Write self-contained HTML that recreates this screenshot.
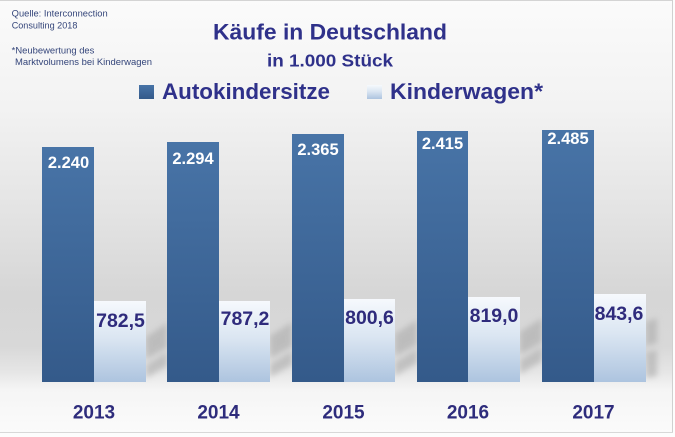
<!DOCTYPE html>
<html><head><meta charset="utf-8"><style>
html,body{margin:0;padding:0;background:#fff;}
svg{display:block;}
text{font-family:"Liberation Sans",Arial,sans-serif;}
</style></head><body>
<svg width="675" height="437" viewBox="0 0 675 437" xmlns="http://www.w3.org/2000/svg">
<defs>
<linearGradient id="bg" x1="0" y1="0" x2="0" y2="1">
<stop offset="0" stop-color="#fbfbfb"/>
<stop offset="0.25" stop-color="#f2f2f2"/>
<stop offset="0.5" stop-color="#e3e3e3"/>
<stop offset="0.68" stop-color="#d6d6d6"/>
<stop offset="0.8" stop-color="#d8d8d8"/>
<stop offset="0.86" stop-color="#e6e6e6"/>
<stop offset="0.9" stop-color="#f5f5f5"/>
<stop offset="1" stop-color="#fbfbfb"/>
</linearGradient>
<linearGradient id="dk" x1="0" y1="0" x2="0" y2="1">
<stop offset="0" stop-color="#4874a7"/>
<stop offset="1" stop-color="#345a8a"/>
</linearGradient>
<linearGradient id="lt" x1="0" y1="0" x2="0" y2="1">
<stop offset="0" stop-color="#f6f9fd"/>
<stop offset="0.45" stop-color="#dbe6f2"/>
<stop offset="1" stop-color="#adc4df"/>
</linearGradient>
<filter id="bl" x="-30%" y="-30%" width="160%" height="160%"><feGaussianBlur stdDeviation="3"/></filter>
</defs>
<rect x="0" y="0" width="675" height="437" fill="#fdfdfd"/>
<rect x="0" y="0" width="673" height="433" fill="url(#bg)"/>
<line x1="0" y1="0.5" x2="673" y2="0.5" stroke="#d4d4d4"/>
<line x1="672.5" y1="0" x2="672.5" y2="433" stroke="#d0d0d0"/>
<line x1="0" y1="432.5" x2="673" y2="432.5" stroke="#d8d8d8"/>

<!-- shadows -->
<g fill="#ababab" filter="url(#bl)" opacity="0.6">
<polygon points="146,337 167,323 167,347 146,360"/>
<polygon points="146,365 167,352 167,366 146,378"/>
<polygon points="270,336 292,322 292,346 270,359"/>
<polygon points="270,364 292,351 292,365 270,377"/>
<polygon points="395,334 417,320 417,344 395,357"/>
<polygon points="395,362 417,349 417,363 395,376"/>
<polygon points="520,332 542,318 542,342 520,355"/>
<polygon points="520,360 542,347 542,361 520,374"/>
<polygon points="646,322 657,318 657,343 646,346"/>
<polygon points="646,352 657,350 657,376 646,378"/>
</g>

<!-- bars -->
<rect x="42" y="147" width="52" height="235" fill="url(#dk)"/>
<rect x="94" y="301" width="52" height="81" fill="url(#lt)"/>
<rect x="167" y="142" width="52" height="240" fill="url(#dk)"/>
<rect x="219" y="301" width="51" height="81" fill="url(#lt)"/>
<rect x="292" y="134" width="52" height="248" fill="url(#dk)"/>
<rect x="344" y="299" width="51" height="83" fill="url(#lt)"/>
<rect x="417" y="131" width="51" height="251" fill="url(#dk)"/>
<rect x="468" y="297" width="52" height="85" fill="url(#lt)"/>
<rect x="542" y="130" width="52" height="252" fill="url(#dk)"/>
<rect x="594" y="294" width="52" height="88" fill="url(#lt)"/>

<!-- white labels -->
<g fill="#ffffff" font-weight="bold" font-size="16.5" text-anchor="middle">
<text x="68.5" y="168">2.240</text>
<text x="193" y="164">2.294</text>
<text x="318" y="155">2.365</text>
<text x="442.5" y="149">2.415</text>
<text x="568" y="144">2.485</text>
</g>
<!-- navy labels -->
<g fill="#2f2b7c" font-weight="bold" font-size="19.5" text-anchor="middle">
<text x="120.5" y="327">782,5</text>
<text x="245" y="325">787,2</text>
<text x="369.5" y="324">800,6</text>
<text x="494" y="322">819,0</text>
<text x="619" y="320">843,6</text>
</g>
<!-- years -->
<g fill="#2e2c7c" font-weight="bold" font-size="19" text-anchor="middle">
<text x="94" y="418.5">2013</text>
<text x="218.5" y="418.5">2014</text>
<text x="343.5" y="418.5">2015</text>
<text x="468" y="418.5">2016</text>
<text x="593.5" y="418.5">2017</text>
</g>

<!-- title -->
<text x="213" y="39.3" fill="#2f318a" font-weight="bold" font-size="22.5" textLength="234" lengthAdjust="spacingAndGlyphs">Käufe in Deutschland</text>
<text x="267" y="66.7" fill="#2f318a" font-weight="bold" font-size="17.5" textLength="126" lengthAdjust="spacingAndGlyphs">in 1.000 Stück</text>

<!-- legend -->
<rect x="139" y="85" width="15" height="14" fill="url(#dk)"/>
<text x="162" y="99" fill="#2f318a" font-weight="bold" font-size="22.5" textLength="168" lengthAdjust="spacingAndGlyphs">Autokindersitze</text>
<rect x="367" y="85" width="15" height="14" fill="url(#lt)"/>
<text x="390" y="99" fill="#2f318a" font-weight="bold" font-size="22.5" textLength="153" lengthAdjust="spacingAndGlyphs">Kinderwagen*</text>

<!-- source -->
<g fill="#34457a" font-size="9.3">
<text x="11.7" y="16.7" textLength="96" lengthAdjust="spacingAndGlyphs">Quelle: Interconnection</text>
<text x="11.7" y="28.3" textLength="65.7" lengthAdjust="spacingAndGlyphs">Consulting 2018</text>
<text x="11.7" y="53.3" textLength="82.7" lengthAdjust="spacingAndGlyphs">*Neubewertung des</text>
<text x="15" y="65" textLength="137" lengthAdjust="spacingAndGlyphs">Marktvolumens bei Kinderwagen</text>
</g>
</svg>
</body></html>
